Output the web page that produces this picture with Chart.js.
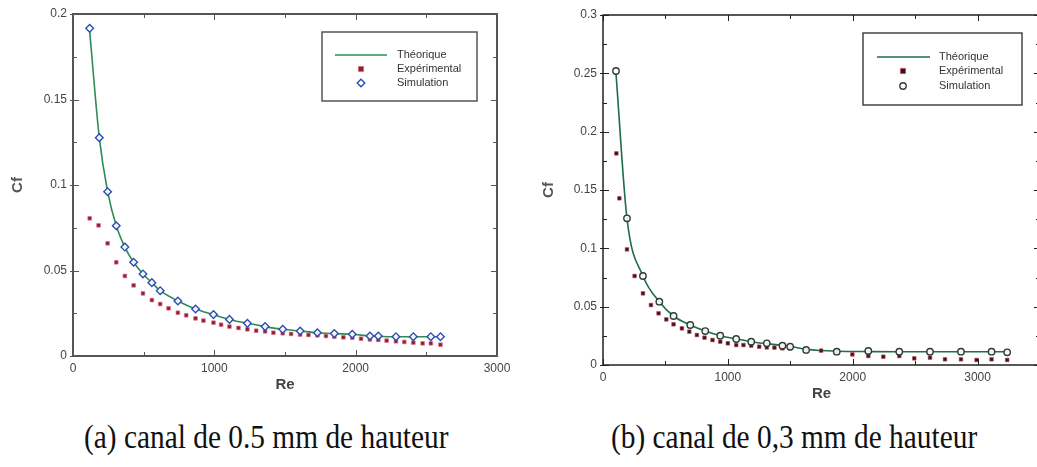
<!DOCTYPE html>
<html>
<head>
<meta charset="utf-8">
<script src="https://cdn.jsdelivr.net/npm/chart.js@4.4.0/dist/chart.umd.min.js"></script>
<style>
  html, body { margin: 0; padding: 0; background: #fff; }
  body { position: relative; width: 1037px; height: 467px; overflow: hidden; }
  canvas { position: absolute; top: 0; }
  #chartA { left: 0; }
  #chartB { left: 520px; }
  .caption {
    position: absolute; top: 419px;
    font-family: "Liberation Serif", "Times New Roman", serif;
    font-size: 33px; color: #111; white-space: nowrap;
    transform: scaleX(0.89); transform-origin: left top;
  }
</style>
</head>
<body>
<canvas id="chartA" width="520" height="410"></canvas>
<canvas id="chartB" width="530" height="410"></canvas>
<div class="caption" style="left:84px">(a) canal de 0.5 mm de hauteur</div>
<div class="caption" style="left:611px">(b) canal de 0,3 mm de hauteur</div>

<script>
// ---- (a) canal de 0.5 mm ----
const theoReA = [118, 186, 245, 306, 367, 429, 495, 558, 617, 742, 867, 994, 1107, 1234, 1359, 1484, 1607, 1729, 1849, 1976, 2101, 2285, 2408, 2600]
const theoCfA = [0.19, 0.1277, 0.0961, 0.0762, 0.0637, 0.0548, 0.048, 0.0429, 0.0382, 0.0322, 0.0275, 0.0242, 0.0214, 0.0191, 0.0172, 0.0156, 0.0146, 0.0136, 0.0131, 0.0127, 0.0117, 0.0113, 0.0113, 0.0113]

const expReA = [118, 181, 245, 306, 367, 429, 495, 558, 617, 676, 742, 801, 867, 923, 994, 1048, 1107, 1171, 1234, 1296, 1359, 1418, 1484, 1543, 1607, 1666, 1729, 1790, 1849, 1913, 1976, 2038, 2101, 2160, 2219, 2285, 2344, 2408, 2474, 2532, 2600]
const expCfA = [0.0805, 0.0764, 0.0659, 0.0548, 0.0468, 0.0413, 0.0366, 0.0327, 0.0304, 0.0279, 0.0253, 0.0238, 0.022, 0.0207, 0.0195, 0.0183, 0.0172, 0.0164, 0.0156, 0.0148, 0.0144, 0.0136, 0.0133, 0.0129, 0.0125, 0.0123, 0.0121, 0.0117, 0.0113, 0.0109, 0.0107, 0.0101, 0.0097, 0.0094, 0.009, 0.0086, 0.0082, 0.0078, 0.0074, 0.0074, 0.0066]

const simReA = [118, 186, 245, 306, 367, 429, 495, 558, 617, 742, 867, 994, 1107, 1234, 1359, 1484, 1607, 1729, 1849, 1976, 2101, 2160, 2285, 2408, 2532, 2600]
const simCfA = [0.1916, 0.1277, 0.0961, 0.0762, 0.0637, 0.0548, 0.048, 0.0429, 0.0382, 0.0322, 0.0275, 0.0242, 0.0214, 0.0191, 0.0172, 0.0156, 0.0146, 0.0136, 0.0131, 0.0127, 0.0117, 0.0117, 0.0113, 0.0113, 0.0113, 0.0113]

const xTicksA = [0, 1000, 2000, 3000]
const xLabelsA = ['0', '1000', '2000', '3000']
const yTicksA = [0, 0.05, 0.1, 0.15, 0.2]
const yLabelsA = ['0', '0.05', '0.1', '0.15', '0.2']

// ---- (b) canal de 0,3 mm ----
const theoReB = [104, 192, 320, 451, 565, 699, 819, 939, 1067, 1187, 1312, 1437, 1499, 1627, 1872, 2125, 2373, 2619, 2867, 3112, 3237]
const theoCfB = [0.25, 0.1257, 0.0763, 0.0543, 0.042, 0.0343, 0.0291, 0.0251, 0.0223, 0.02, 0.0183, 0.0168, 0.016, 0.0135, 0.0118, 0.0115, 0.0114, 0.0114, 0.0114, 0.0114, 0.0114]

const expReB = [107, 131, 192, 253, 320, 384, 445, 507, 565, 632, 691, 752, 813, 877, 939, 1000, 1067, 1125, 1187, 1251, 1312, 1373, 1437, 1499, 1627, 1747, 1872, 1997, 2125, 2245, 2373, 2493, 2619, 2739, 2867, 2992, 3112, 3237]
const expCfB = [0.1814, 0.1429, 0.0991, 0.0763, 0.0614, 0.0514, 0.0443, 0.0391, 0.0349, 0.0314, 0.0286, 0.0257, 0.0234, 0.0214, 0.02, 0.0186, 0.0171, 0.0171, 0.0166, 0.0157, 0.0151, 0.0149, 0.0143, 0.0143, 0.0129, 0.0123, 0.0114, 0.0091, 0.0077, 0.0071, 0.0077, 0.0057, 0.0063, 0.0049, 0.0049, 0.0043, 0.0049, 0.0043]

const simReB = [104, 192, 320, 451, 565, 699, 819, 939, 1067, 1187, 1312, 1437, 1499, 1627, 1872, 2125, 2373, 2619, 2867, 3112, 3237]
const simCfB = [0.252, 0.1257, 0.0763, 0.0543, 0.042, 0.0343, 0.0291, 0.0251, 0.0223, 0.02, 0.0186, 0.0166, 0.0157, 0.0129, 0.0114, 0.012, 0.0114, 0.0114, 0.0114, 0.0114, 0.0109]

const xTicksB = [0, 1000, 2000, 3000]
const xLabelsB = ['0', '1000', '2000', '3000']
const yTicksB = [0, 0.05, 0.1, 0.15, 0.2, 0.25, 0.3]
const yLabelsB = ['0', '0.05', '0.1', '0.15', '0.2', '0.25', '0.3']

const legendLabels = ['Théorique', 'Expérimental', 'Simulation']


function toPoints(xs, ys){
    return xs.map((x, i) => ({x: x, y: ys[i]}))
}

// box round the plot with inward major / minor ticks on all four sides
const framePlugin = {
    id: 'frame',
    afterDatasetsDraw(chart, args, opts){
        const ctx = chart.ctx
        const a = chart.chartArea
        const xs = chart.scales.x
        const ys = chart.scales.y
        ctx.save()
        ctx.strokeStyle = opts.color
        ctx.lineWidth = 1
        for (let v = xs.min; v <= xs.max + 1e-9; v += opts.xMinor){
            const major = Math.abs(v / opts.xMajor - Math.round(v / opts.xMajor)) < 1e-6
            const len = major ? 6 : 4
            const px = Math.round(xs.getPixelForValue(v)) + 0.5
            ctx.beginPath()
            ctx.moveTo(px, a.bottom); ctx.lineTo(px, a.bottom - len)
            ctx.moveTo(px, a.top); ctx.lineTo(px, a.top + len)
            ctx.stroke()
        }
        for (let v = ys.min; v <= ys.max + 1e-9; v += opts.yMinor){
            const major = Math.abs(v / opts.yMajor - Math.round(v / opts.yMajor)) < 1e-6
            const len = major ? 6 : 4
            const py = Math.round(ys.getPixelForValue(v)) + 0.5
            ctx.beginPath()
            ctx.moveTo(a.left - (major ? 3 : 0), py); ctx.lineTo(a.left + len, py)
            ctx.moveTo(a.right, py); ctx.lineTo(a.right - len, py)
            ctx.stroke()
        }
        ctx.lineWidth = opts.width
        ctx.strokeRect(a.left, a.top, a.right - a.left, a.bottom - a.top)
        ctx.restore()
    }
}

function drawMarker(ctx, ds, x, y){
    ctx.save()
    ctx.fillStyle = ds.pointBackgroundColor
    ctx.strokeStyle = ds.pointBorderColor
    ctx.lineWidth = ds.pointBorderWidth
    const r = ds.pointRadius
    ctx.beginPath()
    if (ds.pointStyle === 'rect'){
        ctx.rect(x - r, y - r, 2 * r, 2 * r)
    } else if (ds.pointStyle === 'rectRot'){
        ctx.moveTo(x, y - r); ctx.lineTo(x + r, y); ctx.lineTo(x, y + r); ctx.lineTo(x - r, y); ctx.closePath()
    } else {
        ctx.arc(x, y, r, 0, Math.PI * 2)
    }
    ctx.fill()
    ctx.stroke()
    ctx.restore()
}

// legend box inside the plot, like the original figure
const boxLegendPlugin = {
    id: 'boxLegend',
    afterDraw(chart, args, opts){
        const ctx = chart.ctx
        ctx.save()
        ctx.strokeStyle = opts.border
        ctx.lineWidth = 1.5
        ctx.strokeRect(opts.x, opts.y, opts.w, opts.h)
        ctx.font = '11px Arial, "Liberation Sans", sans-serif'
        ctx.fillStyle = '#333'
        ctx.textBaseline = 'middle'
        chart.data.datasets.forEach((ds, i) => {
            const y = opts.rowY[i]
            if (ds.showLine !== false){
                ctx.strokeStyle = ds.borderColor
                ctx.lineWidth = ds.borderWidth
                ctx.beginPath()
                ctx.moveTo(opts.lineX0, y); ctx.lineTo(opts.lineX1, y)
                ctx.stroke()
            } else {
                drawMarker(ctx, ds, opts.markX, y)
            }
            ctx.fillStyle = '#333'
            ctx.fillText(ds.label, opts.textX, y)
        })
        ctx.restore()
    }
}

function makeChart(id, cfg){
    const ctx = document.getElementById(id).getContext('2d')
    return new Chart(ctx, {
        type: 'line',
        data: {
            datasets: [
                {
                    label: legendLabels[0],
                    data: toPoints(cfg.theoX, cfg.theoY),
                    borderColor: cfg.lineColor,
                    borderWidth: 1.6,
                    pointRadius: 0,
                    cubicInterpolationMode: 'monotone',
                    order: 3
                },
                {
                    label: legendLabels[1],
                    data: toPoints(cfg.expX, cfg.expY),
                    showLine: false,
                    pointStyle: 'rect',
                    pointRadius: 2.6,
                    pointBackgroundColor: cfg.expFill,
                    pointBorderColor: cfg.expBorder,
                    pointBorderWidth: 1,
                    order: 2
                },
                {
                    label: legendLabels[2],
                    data: toPoints(cfg.simX, cfg.simY),
                    showLine: false,
                    pointStyle: cfg.simStyle,
                    pointRadius: cfg.simRadius,
                    pointBackgroundColor: 'rgba(255,255,255,0.9)',
                    pointBorderColor: cfg.simColor,
                    pointBorderWidth: 1.4,
                    order: 1
                }
            ]
        },
        options: {
            responsive: false,
            animation: false,
            devicePixelRatio: 1,
            layout: {
                autoPadding: false,
                padding: cfg.padding
            },
            plugins: {
                legend: {display: false},
                tooltip: {enabled: false},
                frame: cfg.frame,
                boxLegend: cfg.legend
            },
            scales: {
                x: {
                    type: 'linear',
                    min: 0,
                    max: cfg.xMax,
                    afterFit: s => { s.height = cfg.xAxisHeight },
                    afterBuildTicks: s => { s.ticks = cfg.xTicks.map(v => ({value: v})) },
                    grid: {display: false, drawTicks: false},
                    border: {display: false},
                    ticks: {
                        padding: 5,
                        color: '#444',
                        font: {family: 'Arial, "Liberation Sans", sans-serif', size: 12},
                        callback: (v, i) => cfg.xLabels[i]
                    },
                    title: {
                        display: true,
                        text: 'Re',
                        color: '#444',
                        font: {family: 'Arial, "Liberation Sans", sans-serif', size: 15, weight: 'bold'},
                        padding: cfg.xTitlePad
                    }
                },
                y: {
                    type: 'linear',
                    min: 0,
                    max: cfg.yMax,
                    afterFit: s => { s.width = cfg.yAxisWidth },
                    afterBuildTicks: s => { s.ticks = cfg.yTicks.map(v => ({value: v})) },
                    grid: {display: false, drawTicks: false},
                    border: {display: false},
                    ticks: {
                        padding: 6,
                        color: '#444',
                        font: {family: 'Arial, "Liberation Sans", sans-serif', size: 12},
                        callback: (v, i) => cfg.yLabels[i]
                    },
                    title: {
                        display: true,
                        text: 'Cf',
                        color: '#555',
                        font: {family: 'Arial, "Liberation Sans", sans-serif', size: 15, weight: 'bold'},
                        padding: cfg.yTitlePad
                    }
                }
            }
        },
        plugins: [framePlugin, boxLegendPlugin]
    })
}

makeChart('chartA', {
    theoX: theoReA, theoY: theoCfA,
    expX: expReA, expY: expCfA,
    simX: simReA, simY: simCfA,
    lineColor: '#2f8a5a',
    expFill: '#8c1f2b', expBorder: 'rgba(225,110,140,0.7)',
    simColor: '#2c4db4', simStyle: 'rectRot', simRadius: 3.8,
    xMax: 3000, yMax: 0.2,
    xTicks: xTicksA, xLabels: xLabelsA,
    yTicks: yTicksA, yLabels: yLabelsA,
    padding: {left: 0, right: 23, top: 14, bottom: 9},
    xAxisHeight: 45, yAxisWidth: 73,
    xTitlePad: {top: 4, bottom: 7},
    yTitlePad: {top: 9, bottom: 0},
    frame: {color: '#555', width: 2, xMajor: 1000, xMinor: 500, yMajor: 0.05, yMinor: 0.025},
    legend: {x: 322, y: 32, w: 155, h: 69, border: '#555',
             lineX0: 335, lineX1: 387, markX: 361, textX: 397, rowY: [55, 69, 83]}
})

makeChart('chartB', {
    theoX: theoReB, theoY: theoCfB,
    expX: expReB, expY: expCfB,
    simX: simReB, simY: simCfB,
    lineColor: '#1f6e48',
    expFill: '#3a1518', expBorder: 'rgba(200,80,100,0.6)',
    simColor: '#2e3b33', simStyle: 'circle', simRadius: 3.2,
    xMax: 3500, yMax: 0.3,
    xTicks: xTicksB, xLabels: xLabelsB,
    yTicks: yTicksB, yLabels: yLabelsB,
    padding: {left: 0, right: 10, top: 15, bottom: 5},
    xAxisHeight: 40, yAxisWidth: 83,
    xTitlePad: {top: 2, bottom: 2},
    yTitlePad: {top: 20, bottom: 0},
    frame: {color: '#222', width: 1.5, xMajor: 1000, xMinor: 500, yMajor: 0.05, yMinor: 0.025},
    legend: {x: 343, y: 33, w: 159, h: 72, border: '#444',
             lineX0: 357, lineX1: 410, markX: 383, textX: 419, rowY: [57, 71, 86]}
})
</script>
</body>
</html>
